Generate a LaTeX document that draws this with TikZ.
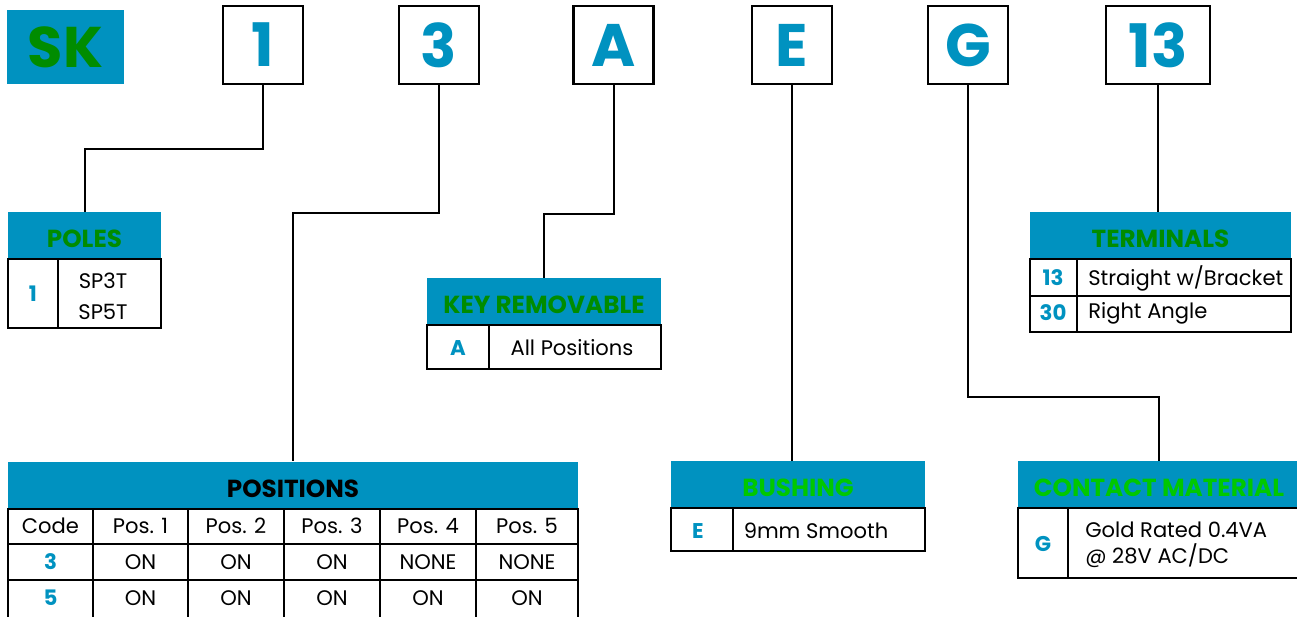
\documentclass[tikz,border=0pt]{standalone}
\usepackage{fontspec}
\setmainfont{Poppins}
\usepackage{tikz}
\usetikzlibrary{positioning, calc}
\definecolor{skblue}{RGB}{0,146,192}
\definecolor{skgreen}{RGB}{0,140,0}
\definecolor{sklime}{RGB}{0,200,0}
\tikzset{
	digit/.style={rectangle, draw, line width=2.2pt, fill=white, text=skblue, minimum width=60pt, minimum height=58.5pt, inner sep=0pt, font=\fontsize{45}{45}\selectfont\bfseries},
	head/.style={rectangle, fill=skblue, text=skgreen, minimum height=35.25pt, inner sep=0pt, text height=18pt, text depth=0pt, font=\fontsize{18.5}{18.5}\selectfont\bfseries},
	boxline/.style={draw, line width=1.5pt},
	tabline/.style={draw, line width=1pt},
	wire/.style={draw, line width=1.5pt},
	code/.style={text=skblue, inner sep=0pt, font=\fontsize{16}{16}\selectfont\bfseries},
	celltext/.style={inner sep=0pt, font=\fontsize{15.8}{19.5}\selectfont}
}

\begin{document}
\begin{tikzpicture}[x=0.75pt, y=-0.75pt]
    \useasboundingbox (0,0) rectangle (1297,617);
    % Part number
    \node[rectangle, fill=skblue, text=skgreen, minimum width=87.75pt, minimum height=55.5pt, inner sep=0pt, font=\fontsize{43}{43}\selectfont\bfseries] (sk) at (65.5,47) {SK};
    \node[digit] (d1) at (263,45) {1};
    \node[digit] (d3) at (439,45) {3};
    \node[digit] (dA) at (613.5,45) {A};
    \node[digit] (dE) at (792,45) {E};
    \node[digit] (dG) at (968,45) {G};
    \node[digit, minimum width=78pt] (d13) at (1158,45) {13};
    % Poles
    \node[head, minimum width=114.75pt] (poles) at (84.5,235.5) {POLES};
    \draw[tabline] (58,259) -- (58,328);
    \draw[boxline] (poles.south west) rectangle (161,328);
    \node[code] (p1) at (33,294) {1};
    \node[celltext, align=center, font=\fontsize{15.8}{23}\selectfont] (p1t) at (103,296) {SP3T\\SP5T};
    % Key removable
    \node[head, minimum width=175.5pt] (keyrem) at (544,301.5) {KEY REMOVABLE};
    \draw[tabline] (489,325) -- (489,369);
    \draw[boxline] (keyrem.south west) rectangle (661,369);
    \node[code] (kA) at (458,348) {A};
    \node[celltext] (kAt) at (572,348) {All Positions};
    % Positions
    \node[head, minimum width=427.5pt, text=black] (posn) at (293,485) {POSITIONS};
    \draw[tabline] (8,544) -- (578,544) (8,580) -- (578,580);
    \draw[tabline] (93,508) -- (93,640) (188,508) -- (188,640) (284,508) -- (284,640)
        (380,508) -- (380,640) (476,508) -- (476,640);
    \draw[boxline] (posn.south west) rectangle (578,640);
    \foreach \x/\t [count=\i] in {50.5/Code, 140.5/Pos. 1, 236/Pos. 2, 332/Pos. 3, 428/Pos. 4, 527/Pos. 5}
        \node[celltext] (h\i) at (\x,526) {\t};
    \node[code] (r3) at (50.5,562) {3};
    \foreach \x/\t [count=\i] in {140.5/ON, 236/ON, 332/ON, 428/NONE, 527/NONE}
        \node[celltext] (r3c\i) at (\x,562) {\t};
    \node[code] (r5) at (50.5,598) {5};
    \foreach \x/\t [count=\i] in {140.5/ON, 236/ON, 332/ON, 428/ON, 527/ON}
        \node[celltext] (r5c\i) at (\x,598) {\t};
    % Bushing
    \node[head, minimum width=190.5pt, text=sklime] (bush) at (798,484.5) {BUSHING};
    \draw[tabline] (733,508) -- (733,551);
    \draw[boxline] (bush.south west) rectangle (925,551);
    \node[code] (bE) at (698,531) {E};
    \node[celltext] (bEt) at (816,531) {9mm Smooth};
    % Contact material
    \node[head, minimum width=211.5pt, text=sklime] (contact) at (1159,484.5) {CONTACT MATERIAL};
    \draw[tabline] (1068,508) -- (1068,578);
    \draw[boxline] (contact.south west) rectangle (1300,578);
    \node[code] (cG) at (1043,544) {G};
    \node[celltext, anchor=west, align=left] (cGt) at (1085,545) {Gold Rated 0.4VA\\@ 28V AC/DC};
    % Terminals
    \node[head, minimum width=195.75pt] (term) at (1160.5,235.5) {TERMINALS};
    \draw[tabline] (1077,259) -- (1077,332) (1030,296) -- (1291,296);
    \draw[boxline] (term.south west) rectangle (1291,332);
    \node[code] (t13) at (1053,278) {13};
    \node[celltext, anchor=west] (t13t) at (1088,278) {Straight w/Bracket};
    \node[code] (t30) at (1053,313) {30};
    \node[celltext, anchor=west] (t30t) at (1088,313) {Right Angle};
    % Connectors
    \draw[wire] (d1.south) -- ++(0,64) -| (poles.north);
    \draw[wire] (d3.south) -- ++(0,128) -| (posn.north);
    \draw[wire] (dA.south) -- ++(0,129) -| (keyrem.north);
    \draw[wire] (dE.south) -- (dE.south |- bush.north);
    \draw[wire] (dG.south) -- ++(0,312) -| (contact.north);
    \draw[wire] (d13.south) -- (d13.south |- term.north);
\end{tikzpicture}
\end{document}
